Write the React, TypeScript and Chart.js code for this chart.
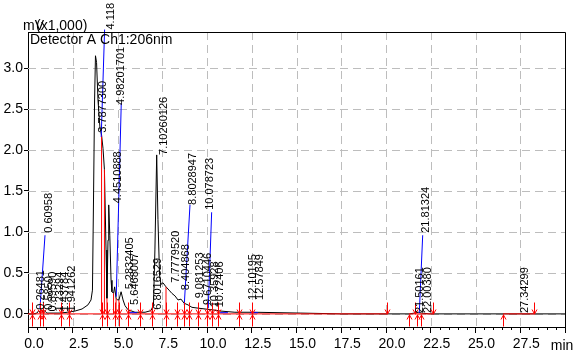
import React, { useEffect, useRef } from "react";
import { Chart, registerables } from "chart.js";

Chart.register(...registerables);

const FONT = "'Liberation Sans', Arial, Helvetica, sans-serif";

// Chromatogram trace (time in min, signal in mV x1,000)
const traceTime = [
  0, 0.3, 0.5, 0.6, 0.68, 0.76, 0.84, 0.92, 1.05, 1.4,
  1.8, 2.2, 2.63, 3.02, 3.35, 3.52, 3.6, 3.66, 3.72, 3.77,
  3.83, 3.91, 4.02, 4.11, 4.19, 4.27, 4.36, 4.41, 4.47, 4.51,
  4.57, 4.64, 4.69, 4.78, 4.84, 4.92, 5.0, 5.08, 5.2, 5.31,
  5.42, 5.59, 5.98, 6.54, 6.87, 7.01, 7.09, 7.19, 7.26, 7.35,
  7.43, 7.54, 7.71, 7.88, 8.04, 8.21, 8.38, 8.55, 8.72, 8.94,
  9.16, 9.5, 9.89, 10.28, 10.73, 11.56, 12.68, 15.2, 17.5, 21.3,
  21.6, 21.8, 22.0, 22.4, 30,
];
const traceSignal = [
  0, 0, 0.01, 0.04, 0.02, 0.05, 0.02, 0.04, 0.01, 0.01,
  0.01, 0.02, 0.035, 0.06, 0.11, 0.17, 0.29, 1.39, 2.61, 3.15,
  3.07, 2.61, 2.27, 2.18, 2.02, 1.76, 0.78, 0.19, 0.9, 1.33,
  0.96, 0.41, 0.27, 0.25, 0.33, 0.19, 0.17, 0.17, 0.27, 0.17,
  0.1, 0.05, 0.02, 0.02, 0.04, 0.11, 0.78, 1.94, 1.15, 0.47,
  0.36, 0.38, 0.33, 0.29, 0.25, 0.22, 0.17, 0.18, 0.13, 0.11,
  0.08, 0.07, 0.06, 0.05, 0.035, 0.02, 0.02, 0.01, 0, 0,
  0.01, 0.02, 0.01, 0, 0,
];

// Integration baselines (red)
const baselineFrom = [0, 21.28, 26.54];
const baselineTo = [20.06, 22.63, 28.27];

// Peak start / end markers
const denseMarkers = [
  0.22, 0.67, 0.84, 1.84, 2.29, 4.13, 4.41, 4.86, 5.08, 5.59, 6.26, 6.93,
  7.71, 8.32, 8.72, 9.0, 9.5, 10.0, 10.28, 10.61, 11.79, 12.51,
];
const markerStartTimes = [...denseMarkers, 21.28, 21.73, 21.96, 26.54];
const markerEndTimes = [...denseMarkers, 20.06, 21.62, 22.63, 28.27];

// Perpendicular drop lines (red)
const dropTimes = [4.11, 4.27, 4.41, 4.78, 4.92, 5.08, 7.71];
const dropHeights = [2.18, 1.76, 0.19, 0.25, 0.19, 0.17, 0.33];

// Label leader lines (blue)
const leaderFromT = [0.67, 4.09, 4.93, 8.73, 10.07, 21.86];
const leaderFromV = [0.07, 2.16, 0.21, 0.11, 0.07, 0.01];
const leaderToT = [0.95, 4.28, 5.21, 9.05, 10.26, 22.05];
const leaderToV = [0.96, 3.47, 2.57, 1.33, 1.24, 0.96];
const skimFromT = [5.59, 10.73, 12.4];
const skimToT = [6.09, 11.17, 12.85];
const skimLevel = [0.015, 0.015, 0.015];

// Peak labels (rotated)
const peakLabelText = [
  "0.60958", "3.7877300", "4.118", "4.98201701", "4.4510888", "5.2832405",
  "5.6468007", "7.10260126", "6.8016529", "7.7779520", "8.404868", "8.8028947",
  "9.081253", "10.078723", "9.6710446", "10.35928", "10.72406", "12.10195",
  "12.57849", "21.81324", "21.50161", "22.00380", "27.34299",
  "0.26481", "0.5850", "0.89590", "1.23294", "1.43784", "1.941262",
];
const peakLabelT = [
  1.15, 4.19, 4.61, 5.17, 5.0, 5.7,
  5.98, 7.57, 7.26, 8.27, 8.8, 9.19,
  9.61, 10.17, 10.08, 10.42, 10.7, 12.57,
  12.96, 22.23, 21.9, 22.35, 27.77,
  0.73, 1.17, 1.37, 1.76, 2.04, 2.46,
];
const peakLabelV = [
  0.99, 2.21, 3.47, 2.55, 1.35, 0.3,
  0.11, 1.94, 0.05, 0.38, 0.29, 1.33,
  0.19, 1.27, 0.11, 0.08, 0.08, 0.17,
  0.17, 0.99, 0.01, 0.01, 0.01,
  0.05, 0.05, 0.03, 0.03, 0.03, 0.03,
];

const xMin = 0;
const xMax = 30;
const xStep = 2.5;
const xMinorStep = 0.5;
const yMin = -0.16;
const yMax = 3.44;
const yStep = 0.5;

const yUnit = "mV";
const yScaleNote = "(x1,000)";
const detectorTitle = "Detector A Ch1:206nm";
const xUnit = "min";

function segs(x1: number[], y1: number[], x2: number[], y2: number[]) {
  const out: { x: number; y: number | null }[] = [];
  for (let i = 0; i < x1.length; i++) {
    out.push({ x: x1[i], y: y1[i] }, { x: x2[i], y: y2[i] }, { x: x2[i], y: null });
  }
  return out;
}

const decor = {
  id: "decor",
  beforeDatasetsDraw(chart: any) {
    const { ctx, chartArea: a, scales } = chart;
    const x = scales.x;
    const y = scales.y;
    ctx.save();
    ctx.strokeStyle = "#bdbdbd";
    ctx.lineWidth = 1;
    ctx.setLineDash([8, 5]);
    x.ticks.forEach((t: any) => {
      if (t.value <= xMin || t.value >= xMax) return;
      const px = Math.round(x.getPixelForValue(t.value)) + 0.5;
      ctx.beginPath();
      ctx.moveTo(px, a.top);
      ctx.lineTo(px, a.bottom);
      ctx.stroke();
    });
    y.ticks.forEach((t: any) => {
      const py = Math.round(y.getPixelForValue(t.value)) + 0.5;
      ctx.beginPath();
      ctx.moveTo(a.left, py);
      ctx.lineTo(a.right, py);
      ctx.stroke();
    });
    ctx.restore();
  },
  afterDatasetsDraw(chart: any) {
    const { ctx, scales } = chart;
    const x = scales.x;
    const y = scales.y;
    const y0 = Math.round(y.getPixelForValue(0)) + 0.5;
    ctx.save();
    ctx.strokeStyle = "#ff0000";
    ctx.lineWidth = 1;
    const line = (a: number, b: number, c: number, d: number) => {
      ctx.beginPath();
      ctx.moveTo(a, b);
      ctx.lineTo(c, d);
      ctx.stroke();
    };
    markerStartTimes.forEach((t) => {
      const px = Math.round(x.getPixelForValue(t)) + 0.5;
      line(px, y0, px, y0 + 12);
      line(px - 2.5, y0 + 5, px, y0 + 0.5);
      line(px + 2.5, y0 + 5, px, y0 + 0.5);
    });
    markerEndTimes.forEach((t) => {
      const px = Math.round(x.getPixelForValue(t)) + 0.5;
      line(px, y0 - 12, px, y0);
      line(px - 2.5, y0 - 5, px, y0 - 0.5);
      line(px + 2.5, y0 - 5, px, y0 - 0.5);
    });
    ctx.restore();

    ctx.save();
    ctx.fillStyle = "#000";
    ctx.font = `11px ${FONT}`;
    ctx.textAlign = "left";
    ctx.textBaseline = "middle";
    peakLabelText.forEach((s, i) => {
      const px = x.getPixelForValue(peakLabelT[i]);
      const py = y.getPixelForValue(peakLabelV[i]);
      ctx.save();
      ctx.translate(px, py);
      ctx.rotate(-Math.PI / 2);
      ctx.fillText(s, 0, 0);
      ctx.restore();
    });
    ctx.restore();
  },
  afterDraw(chart: any) {
    const { ctx, chartArea: a, scales } = chart;
    const x = scales.x;
    ctx.save();
    ctx.strokeStyle = "#000";
    ctx.lineWidth = 1;
    ctx.beginPath();
    ctx.moveTo(a.left, a.top + 0.5);
    ctx.lineTo(a.right + 0.5, a.top + 0.5);
    ctx.lineTo(a.right + 0.5, a.bottom);
    ctx.stroke();
    for (let i = 0; xMin + i * xMinorStep <= xMax; i++) {
      const v = xMin + i * xMinorStep;
      if (Math.abs(v / xStep - Math.round(v / xStep)) < 1e-6) continue;
      const px = Math.round(x.getPixelForValue(v)) + 0.5;
      ctx.beginPath();
      ctx.moveTo(px, a.bottom);
      ctx.lineTo(px, a.bottom + 3);
      ctx.stroke();
    }
    ctx.fillStyle = "#000";
    ctx.font = `14px ${FONT}`;
    ctx.textAlign = "left";
    ctx.textBaseline = "alphabetic";
    ctx.fillText(yUnit, 23, 30);
    ctx.fillText(yScaleNote, 36, 30);
    ctx.fillText(detectorTitle, a.left + 2, 43.5);
    ctx.textAlign = "center";
    ctx.fillText(xUnit, a.right - 3, 350);
    ctx.restore();
  },
};

export default function App() {
  const ref = useRef<HTMLCanvasElement | null>(null);

  useEffect(() => {
    if (!ref.current) return;
    const chart = new Chart(ref.current, {
      type: "line",
      data: {
        datasets: [
          {
            label: "leaders",
            data: [
              ...segs(leaderFromT, leaderFromV, leaderToT, leaderToV),
              ...segs(skimFromT, skimLevel, skimToT, skimLevel),
            ],
            borderColor: "#0000ff",
            borderWidth: 1,
            pointRadius: 0,
            tension: 0,
            clip: false,
            order: 1,
          } as any,
          {
            label: "baseline",
            data: [
              ...segs(baselineFrom, baselineFrom.map(() => 0), baselineTo, baselineTo.map(() => 0)),
              ...segs(dropTimes, dropTimes.map(() => 0), dropTimes, dropHeights),
            ],
            borderColor: "#ff0000",
            borderWidth: 1,
            pointRadius: 0,
            tension: 0,
            order: 2,
          } as any,
          {
            label: "trace",
            data: traceTime.map((t, i) => ({ x: t, y: traceSignal[i] })),
            borderColor: "#000000",
            borderWidth: 1,
            pointRadius: 0,
            tension: 0,
            order: 3,
          } as any,
        ],
      },
      options: {
        animation: false,
        responsive: false,
        devicePixelRatio: 1,
        layout: { padding: { left: 0, right: 16, top: 32, bottom: 0 } },
        plugins: { legend: { display: false }, tooltip: { enabled: false } },
        events: [],
        scales: {
          x: {
            type: "linear",
            min: xMin,
            max: xMax,
            afterFit: (s: any) => {
              s.height = 25;
            },
            border: { display: true, color: "#000", width: 1 },
            grid: {
              display: true,
              drawOnChartArea: false,
              drawTicks: true,
              tickLength: 6,
              tickColor: "#000",
            },
            ticks: {
              stepSize: xStep,
              includeBounds: false,
              autoSkip: false,
              maxRotation: 0,
              padding: 3,
              labelOffset: 6,
              color: "#000",
              font: { family: FONT, size: 14 },
              callback: (v: any) => (Number(v) >= xMax ? "" : Number(v).toFixed(1)),
            },
          },
          y: {
            type: "linear",
            min: yMin,
            max: yMax,
            afterFit: (s: any) => {
              s.width = 28;
            },
            border: { display: true, color: "#000", width: 1 },
            grid: {
              display: true,
              drawOnChartArea: false,
              drawTicks: true,
              tickLength: 4,
              tickColor: "#000",
            },
            ticks: {
              stepSize: yStep,
              includeBounds: false,
              padding: 1,
              color: "#000",
              font: { family: FONT, size: 14 },
              callback: (v: any) => Number(v).toFixed(1),
            },
          },
        },
      } as any,
      plugins: [decor],
    });
    return () => chart.destroy();
  }, []);

  return (
    <div
      style={{
        position: "fixed",
        left: 0,
        top: 0,
        width: 581,
        height: 352,
        background: "#fff",
      }}
    >
      <canvas ref={ref} width={581} height={352} style={{ width: 581, height: 352, display: "block" }} />
    </div>
  );
}
